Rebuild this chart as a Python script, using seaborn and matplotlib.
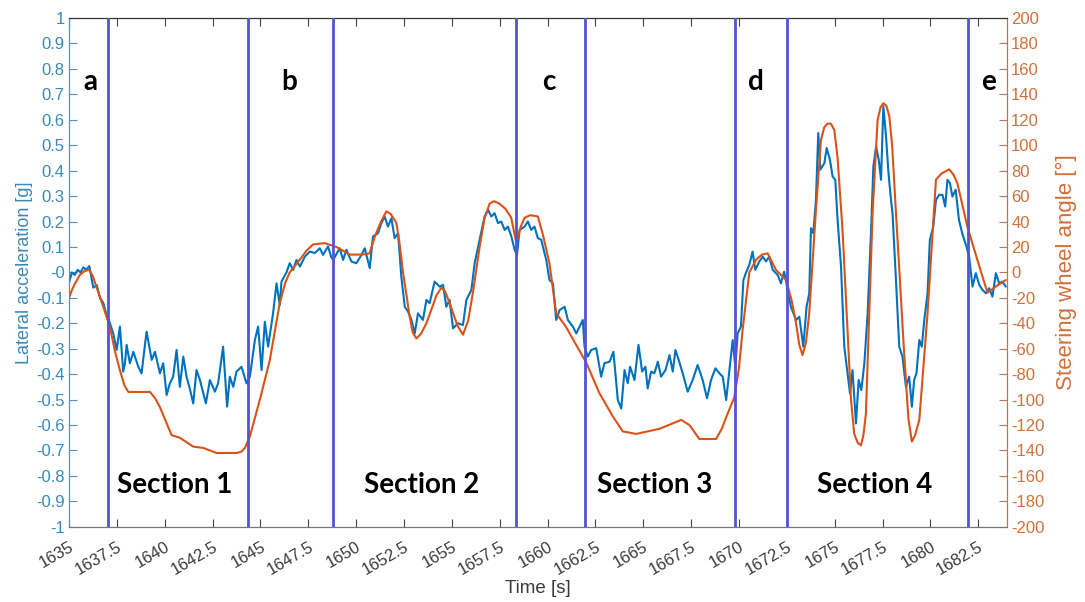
import numpy as np
import pandas as pd
import matplotlib
matplotlib.use("Agg")
import matplotlib.pyplot as plt
import seaborn as sns

# lateral acceleration [g]
accel_time = [1635.0, 1635.15, 1635.3, 1635.45, 1635.6, 1635.75, 1635.9, 1636.06, 1636.17, 1636.27,
              1636.45, 1636.62, 1636.79, 1636.97, 1637.14, 1637.31, 1637.49, 1637.66, 1637.83, 1637.92,
              1638.01, 1638.18, 1638.36, 1638.62, 1638.79, 1639.05, 1639.32, 1639.49, 1639.75, 1639.92,
              1640.10, 1640.27, 1640.44, 1640.62, 1640.79, 1640.97, 1641.14, 1641.32, 1641.49, 1641.66,
              1641.84, 1642.15, 1642.36, 1642.62, 1642.79, 1643.05, 1643.26, 1643.40, 1643.58, 1643.75,
              1644.01, 1644.27, 1644.45, 1644.71, 1644.88, 1645.06, 1645.23, 1645.40, 1645.66, 1645.84,
              1646.01, 1646.10, 1646.36, 1646.53, 1646.71, 1646.88, 1647.06, 1647.32, 1647.58, 1647.84,
              1648.10, 1648.27, 1648.53, 1648.70, 1648.80, 1649.14, 1649.32, 1649.49, 1649.75, 1650.01,
              1650.28, 1650.45, 1650.71, 1650.88, 1651.14, 1651.32, 1651.49, 1651.66, 1651.84, 1652.01,
              1652.19, 1652.36, 1652.54, 1652.71, 1652.89, 1653.06, 1653.23, 1653.49, 1653.67, 1653.84,
              1654.10, 1654.36, 1654.54, 1654.71, 1654.88, 1655.06, 1655.32, 1655.58, 1655.76, 1656.02,
              1656.19, 1656.45, 1656.71, 1656.89, 1657.06, 1657.23, 1657.41, 1657.58, 1657.76, 1657.93,
              1658.11, 1658.28, 1658.40, 1658.54, 1658.80, 1658.97, 1659.15, 1659.32, 1659.49, 1659.67,
              1659.93, 1660.10, 1660.28, 1660.45, 1660.63, 1660.89, 1661.06, 1661.32, 1661.50, 1661.67,
              1661.84, 1661.93, 1662.10, 1662.28, 1662.54, 1662.80, 1662.97, 1663.24, 1663.44, 1663.67,
              1663.85, 1664.02, 1664.19, 1664.31, 1664.54, 1664.75, 1664.94, 1665.11, 1665.23, 1665.41,
              1665.58, 1665.76, 1665.93, 1666.16, 1666.37, 1666.54, 1666.68, 1666.85, 1667.06, 1667.32,
              1667.58, 1667.84, 1668.10, 1668.33, 1668.54, 1668.77, 1668.98, 1669.15, 1669.33, 1669.50,
              1669.67, 1669.81, 1669.93, 1670.10, 1670.23, 1670.37, 1670.54, 1670.71, 1670.85, 1671.06,
              1671.24, 1671.41, 1671.58, 1671.76, 1672.02, 1672.19, 1672.36, 1672.54, 1672.71, 1672.98,
              1673.15, 1673.36, 1673.53, 1673.67, 1673.76, 1673.88, 1674.02, 1674.14, 1674.25, 1674.46,
              1674.58, 1674.75, 1674.89, 1675.03, 1675.15, 1675.33, 1675.50, 1675.67, 1675.80, 1675.93,
              1676.11, 1676.25, 1676.39, 1676.55, 1676.72, 1676.90, 1677.02, 1677.16, 1677.30, 1677.42,
              1677.54, 1677.68, 1677.81, 1677.94, 1678.02, 1678.20, 1678.37, 1678.54, 1678.72, 1678.89,
              1679.03, 1679.15, 1679.27, 1679.42, 1679.55, 1679.68, 1679.85, 1679.97, 1680.15, 1680.29,
              1680.46, 1680.63, 1680.77, 1680.89, 1681.02, 1681.15, 1681.32, 1681.49, 1681.66, 1681.88,
              1682.02, 1682.20, 1682.37, 1682.55, 1682.72, 1682.90, 1683.07, 1683.24, 1683.42, 1683.59,
              1683.76, 1683.94]
accel_g = [-0.04, 0.0, -0.01, 0.01, 0.0, 0.02, 0.01, 0.025, -0.02, -0.06,
           -0.05, -0.10, -0.12, -0.17, -0.20, -0.24, -0.305, -0.213, -0.39, -0.36,
           -0.285, -0.357, -0.312, -0.371, -0.397, -0.233, -0.344, -0.312, -0.397, -0.357,
           -0.482, -0.436, -0.41, -0.305, -0.45, -0.331, -0.41, -0.46, -0.515, -0.384,
           -0.423, -0.515, -0.423, -0.469, -0.436, -0.292, -0.528, -0.41, -0.45, -0.39,
           -0.371, -0.436, -0.41, -0.266, -0.213, -0.384, -0.194, -0.292, -0.161, -0.043,
           -0.128, -0.036, 0.0, 0.036, 0.01, 0.049, 0.023, 0.062, 0.082, 0.076,
           0.095, 0.069, 0.102, 0.06, 0.049, 0.095, 0.049, 0.089, 0.043, 0.036,
           0.069, 0.095, 0.017, 0.141, 0.154, 0.194, 0.22, 0.18, 0.213, 0.135,
           0.154, -0.017, -0.135, -0.154, -0.187, -0.24, -0.161, -0.187, -0.108, -0.121,
           -0.036, -0.056, -0.049, -0.135, -0.108, -0.22, -0.20, -0.207, -0.108, -0.069,
           0.036, 0.128, 0.22, 0.246, 0.22, 0.233, 0.194, 0.20, 0.167, 0.18,
           0.141, 0.089, 0.069, 0.167, 0.18, 0.20, 0.167, 0.18, 0.135, 0.128,
           0.049, -0.03, -0.043, -0.187, -0.148, -0.135, -0.187, -0.213, -0.24, -0.213,
           -0.187, -0.292, -0.331, -0.305, -0.298, -0.41, -0.357, -0.351, -0.312, -0.502,
           -0.535, -0.384, -0.436, -0.371, -0.423, -0.285, -0.39, -0.371, -0.456, -0.39,
           -0.397, -0.351, -0.41, -0.384, -0.325, -0.39, -0.305, -0.344, -0.397, -0.469,
           -0.423, -0.364, -0.423, -0.495, -0.423, -0.377, -0.397, -0.41, -0.502, -0.384,
           -0.266, -0.371, -0.24, -0.213, -0.03, 0.0, 0.03, 0.082, 0.01, 0.043,
           0.062, 0.043, 0.062, 0.01, -0.01, -0.043, 0.003, -0.069, -0.135, -0.187,
           -0.174, -0.292, -0.135, -0.082, 0.174, 0.154, 0.285, 0.548, 0.404, 0.43,
           0.489, 0.443, 0.377, 0.364, 0.207, 0.023, -0.292, -0.397, -0.476, -0.384,
           -0.594, -0.423, -0.463, -0.357, -0.161, 0.167, 0.417, 0.495, 0.443, 0.364,
           0.653, 0.535, 0.39, 0.285, 0.233, -0.03, -0.292, -0.331, -0.45, -0.41,
           -0.528, -0.423, -0.397, -0.266, -0.292, -0.187, -0.082, 0.128, 0.18, 0.285,
           0.305, 0.305, 0.259, 0.364, 0.351, 0.298, 0.325, 0.207, 0.154, 0.102,
           0.062, -0.056, -0.003, -0.049, -0.069, -0.082, -0.062, -0.095, -0.003, -0.043,
           -0.036, -0.056]

# steering wheel angle [deg]
steer_time = [1635.0, 1635.15, 1635.3, 1635.57, 1635.8, 1636.06, 1636.25, 1636.4, 1636.79, 1637.14,
              1637.4, 1637.66, 1637.9, 1638.1, 1639.23, 1639.5, 1639.75, 1640.36, 1640.79, 1641.49,
              1642.01, 1642.71, 1643.75, 1644.0, 1644.19, 1644.45, 1644.7, 1644.97, 1645.49, 1646.01,
              1646.3, 1646.53, 1647.06, 1647.4, 1647.75, 1648.36, 1648.97, 1649.67, 1650.3, 1650.7,
              1650.97, 1651.3, 1651.58, 1651.8, 1652.1, 1652.25, 1652.45, 1652.8, 1652.95, 1653.15,
              1653.4, 1653.67, 1654.2, 1654.45, 1654.65, 1654.88, 1655.3, 1655.58, 1655.85, 1656.1,
              1656.45, 1656.7, 1656.97, 1657.2, 1657.49, 1657.8, 1658.1, 1658.37, 1658.6, 1658.8,
              1659.1, 1659.49, 1659.75, 1660.1, 1660.45, 1660.97, 1662.02, 1662.71, 1663.4, 1663.93,
              1664.63, 1665.84, 1666.98, 1667.41, 1667.93, 1668.8, 1669.1, 1669.33, 1669.76, 1670.0,
              1670.19, 1670.54, 1670.89, 1671.2, 1671.5, 1671.93, 1672.46, 1672.75, 1672.98, 1673.15,
              1673.32, 1673.5, 1673.67, 1674.02, 1674.28, 1674.45, 1674.63, 1674.8, 1674.98, 1675.15,
              1675.41, 1675.85, 1676.02, 1676.2, 1676.37, 1676.5, 1676.63, 1676.98, 1677.24, 1677.4,
              1677.54, 1677.7, 1677.85, 1678.0, 1678.2, 1678.63, 1678.85, 1679.03, 1679.2, 1679.42,
              1679.85, 1680.29, 1680.6, 1680.98, 1681.2, 1681.41, 1681.93, 1682.55, 1682.98, 1683.42,
              1683.94]
steer_deg = [-20, -14, -9, -2, 1, 2, -3, -10, -27, -43,
             -62, -77, -89, -94, -94, -99, -106, -128, -130, -137,
             -138, -142, -142, -141, -138, -129, -115, -100, -69, -24,
             -8, 0, 10, 17, 22, 23, 20, 14, 14, 15,
             28, 40, 48, 46, 39, 25, 0, -35, -47, -52,
             -48, -40, -18, -12, -15, -24, -42, -49, -38, -16,
             20, 42, 54, 56, 54, 50, 43, 23, 36, 43,
             45, 44, 30, 7, -32, -43, -71, -95, -113, -125,
             -127, -123, -116, -120, -131, -131, -123, -114, -98, -75,
             -45, 0, 10, 14, 15, 2, -6, -22, -40, -57,
             -65, -55, -32, 49, 104, 114, 117, 117, 112, 90,
             33, -100, -127, -134, -136, -128, -111, 47, 120, 130,
             133, 131, 123, 100, 47, -64, -115, -133, -128, -116,
             -32, 73, 78, 81, 77, 70, 36, 5, -16, -11,
             -6]

# section boundaries and labels
boundaries = [1637.05, 1644.36, 1648.8, 1658.35, 1661.93, 1669.81, 1672.5, 1681.96]
letter_labels = ["a", "b", "c", "d", "e"]
letter_x = [1636.1, 1646.5, 1660.05, 1670.9, 1683.05]
section_labels = ["Section 1", "Section 2", "Section 3", "Section 4"]
section_x = [1640.5, 1653.4, 1665.6, 1677.1]

x_ticks = [1635, 1637.5, 1640, 1642.5, 1645, 1647.5, 1650, 1652.5, 1655, 1657.5,
           1660, 1662.5, 1665, 1667.5, 1670, 1672.5, 1675, 1677.5, 1680, 1682.5]

blue = "#0072BD"
orange = "#D95319"
blue_txt = "#3a88b8"
orange_txt = "#d0703a"

sns.set_style("white")
plt.rcParams["font.family"] = ["Liberation Sans", "DejaVu Sans"]

accel_df = pd.DataFrame({"t": accel_time, "g": accel_g})
steer_df = pd.DataFrame({"t": steer_time, "deg": steer_deg})

fig = plt.figure(figsize=(10.85, 6.02), dpi=100)
ax = fig.add_axes([0.0636, 0.125, 0.8645, 0.845])
ax2 = ax.twinx()

sns.lineplot(data=accel_df, x="t", y="g", ax=ax, color=blue, linewidth=1.5, estimator=None, sort=False)
sns.lineplot(data=steer_df, x="t", y="deg", ax=ax2, color=orange, linewidth=1.5, estimator=None, sort=False)

for b in boundaries:
    ax2.axvline(b, color="#5353d6", linewidth=2.0, zorder=5)

ax.set_xlim(1635, 1684)
ax.set_ylim(-1, 1)
ax2.set_ylim(-200, 200)

ax.set_xticks(x_ticks)
ax.set_xticklabels([f"{v:g}" for v in x_ticks], rotation=30, ha="right",
                   rotation_mode="anchor", fontsize=12, color="#3a3a3a")
lticks = np.round(np.arange(-1, 1.01, 0.1), 1)
ax.set_yticks(lticks)
ax.set_yticklabels([f"{v:g}" for v in lticks], fontsize=12, color=blue_txt)
rticks = np.arange(-200, 201, 20)
ax2.set_yticks(rticks)
ax2.set_yticklabels([str(v) for v in rticks], fontsize=12, color=orange_txt)

ax.tick_params(axis="x", direction="in", length=6, top=True, bottom=True, pad=9, color="#444444")
ax.tick_params(axis="y", direction="in", length=6, color="#5a8fb0", pad=3)
ax2.tick_params(axis="y", direction="in", length=6, color="#b07a5a", pad=3)

for a in (ax, ax2):
    a.spines["top"].set_color("#333333")
    a.spines["bottom"].set_color("#777777")
    a.spines["left"].set_color("#5a8fb0")
    a.spines["right"].set_color("#b07a5a")

ax.set_xlabel("Time [s]", fontsize=13.5, color="#3a3a3a", labelpad=2)
ax.set_ylabel("Lateral acceleration [g]", fontsize=13, color=blue_txt, labelpad=2)
ax2.set_ylabel("Steering wheel angle [°]", fontsize=16, color=orange_txt, labelpad=8)

for lab, x in zip(letter_labels, letter_x):
    ax.text(x, 0.75, lab, fontsize=20, fontweight="bold", family="Lato",
            ha="center", va="center", color="black", zorder=6)
for lab, x in zip(section_labels, section_x):
    ax.text(x, -0.835, lab, fontsize=20, fontweight="bold", family="Lato",
            ha="center", va="center", color="black", zorder=6)

fig.savefig("out.png", dpi=100)
